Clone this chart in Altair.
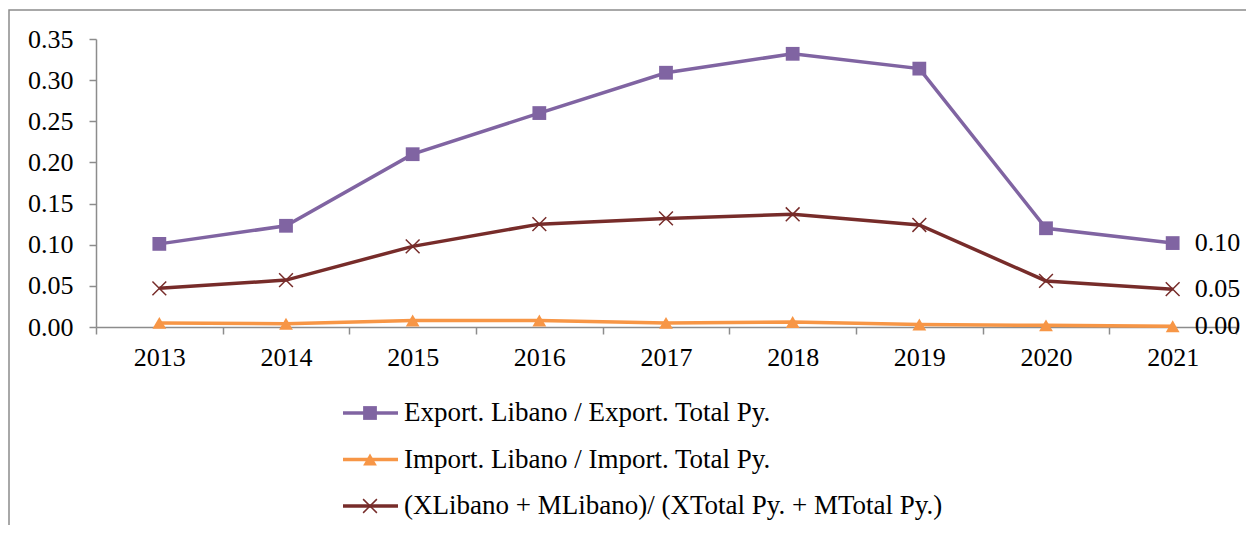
import altair as alt
import pandas as pd

years = ["2013", "2014", "2015", "2016", "2017", "2018", "2019", "2020", "2021"]
export_ratio = [0.101, 0.123, 0.210, 0.260, 0.309, 0.332, 0.314, 0.120, 0.102]
import_ratio = [0.005, 0.004, 0.008, 0.008, 0.005, 0.006, 0.003, 0.002, 0.001]
trade_ratio = [0.047, 0.057, 0.098, 0.125, 0.132, 0.137, 0.124, 0.056, 0.046]

series_names = [
    "Export. Libano / Export. Total Py.",
    "Import. Libano / Import. Total Py.",
    "(XLibano + MLibano)/ (XTotal Py. + MTotal Py.)",
]
series_colors = ["#8064A2", "#F79646", "#772C2A"]
y_ticks = [0.0, 0.05, 0.10, 0.15, 0.20, 0.25, 0.30, 0.35]

rows = []
for name, vals in zip(series_names, [export_ratio, import_ratio, trade_ratio]):
    for yr, v in zip(years, vals):
        rows.append({"series": name, "year": yr, "value": v})
df = pd.DataFrame(rows)
last = df[df["year"] == years[-1]]
legend_df = pd.DataFrame({"series": series_names})

FONT = "Liberation Serif"
W, H = 1140, 288

xaxis = alt.Axis(title=None, labelAngle=0, tickBand="extent")
xscale = alt.Scale(type="band", domain=years, paddingInner=0, paddingOuter=0)
xenc = alt.X("year:N", sort=years, bandPosition=0.5, scale=xscale, axis=xaxis)
yscale = alt.Scale(domain=[0, 0.35], nice=False, zero=True)
yaxis = alt.Axis(title=None, values=y_ticks, format=".2f", grid=False)
yenc = alt.Y("value:Q", scale=yscale, axis=yaxis)
yenc_noaxis = alt.Y("value:Q", scale=yscale, axis=None)
color = alt.Color("series:N", scale=alt.Scale(domain=series_names, range=series_colors), legend=None)

frame = alt.Chart(pd.DataFrame({"a": [0]})).mark_rect(
    fillOpacity=0, stroke="#8C8C8C", strokeWidth=1.5
).encode(x=alt.value(-87), x2=alt.value(1300), y=alt.value(-29), y2=alt.value(700))

lines = alt.Chart(df).mark_line(strokeWidth=3.5).encode(x=xenc, y=yenc, color=color)

squares_tri = alt.Chart(df).transform_filter(
    alt.FieldOneOfPredicate(field="series", oneOf=series_names[:2])
).mark_point(filled=True, opacity=1).encode(
    x=xenc, y=yenc_noaxis, color=color,
    shape=alt.Shape("series:N", scale=alt.Scale(domain=series_names[:2], range=["square", "triangle-up"]), legend=None),
    size=alt.value(190),
)
crosses = alt.Chart(df).transform_filter(
    alt.FieldEqualPredicate(field="series", equal=series_names[2])
).mark_point(filled=False, opacity=1, strokeWidth=1.5, shape="M-1,-1L1,1M-1,1L1,-1", size=190).encode(
    x=xenc, y=yenc_noaxis, color=color,
)

labels = alt.Chart(last).mark_text(
    align="left", baseline="middle", dx=22, font=FONT, fontSize=26, color="black"
).encode(x=xenc, y=yenc_noaxis, text=alt.Text("value:Q", format=".2f"))

leg_y = alt.Y("series:N", sort=series_names,
              scale=alt.Scale(type="point", domain=series_names, range=[374, 467], padding=0), axis=None)
leg_lines = alt.Chart(legend_df).mark_rule(strokeWidth=3.5).encode(
    x=alt.value(247), x2=alt.value(302), y=leg_y, color=color)
leg_sq = alt.Chart(legend_df).transform_filter(
    alt.FieldOneOfPredicate(field="series", oneOf=series_names[:2])
).mark_point(filled=True, opacity=1).encode(
    x=alt.value(274), y=leg_y, color=color,
    shape=alt.Shape("series:N", scale=alt.Scale(domain=series_names[:2], range=["square", "triangle-up"]), legend=None),
    size=alt.value(190),
)
leg_x = alt.Chart(legend_df).transform_filter(
    alt.FieldEqualPredicate(field="series", equal=series_names[2])
).mark_point(filled=False, opacity=1, strokeWidth=1.5, shape="M-1,-1L1,1M-1,1L1,-1", size=190).encode(
    x=alt.value(274), y=leg_y, color=color)
leg_text = alt.Chart(legend_df).mark_text(
    align="left", baseline="middle", font=FONT, fontSize=27, color="black"
).encode(x=alt.value(308), y=leg_y, text="series:N")

chart = alt.layer(
    frame, lines, squares_tri, crosses, labels, leg_lines, leg_sq, leg_x, leg_text
).resolve_scale(y="independent", shape="independent").properties(
    width=W, height=H,
    autosize=alt.AutoSizeParams(type="none"),
    padding={"left": 88, "top": 31, "right": 10, "bottom": 198},
).configure_view(stroke=None).configure_axis(
    labelFont=FONT, labelFontSize=26, labelColor="black",
    domainColor="#8C8C8C", tickColor="#8C8C8C", domainWidth=1.5, tickWidth=1.5,
    tickSize=7,
).configure_axisY(labelPadding=16).configure_axisX(labelPadding=10)

chart.save("out.html", embed_options={"renderer": "svg", "actions": False})
